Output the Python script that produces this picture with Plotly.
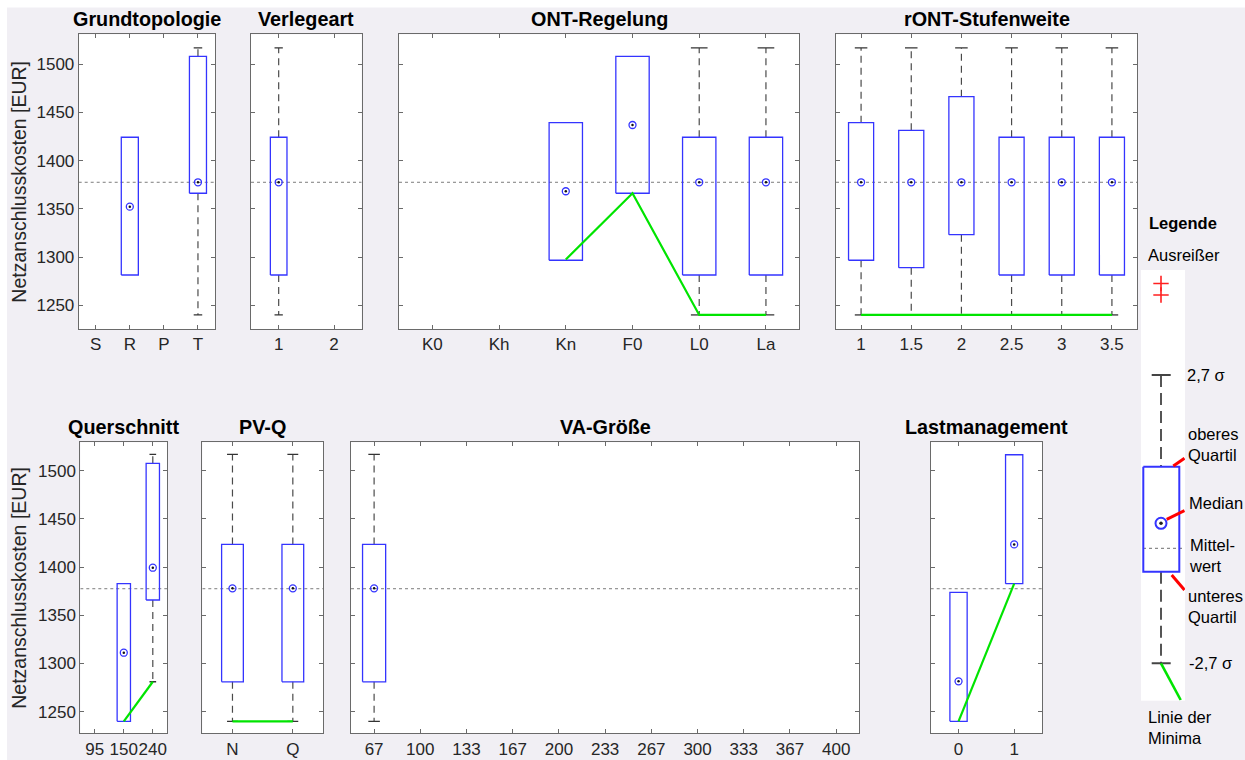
import plotly.graph_objects as go

W, H = 1245, 760
BG = "#f1eff4"
AX = "#6a6a6a"
TXT = "#262626"
BLUE = "#3434ff"
GREEN = "#00e400"
FONT = "Liberation Sans, Arial, sans-serif"

# ---------------- data ----------------
MEAN = 1377.6
Y_TICKS = [1250, 1300, 1350, 1400, 1450, 1500]

topo_cats = ["S", "R", "P", "T"]
topo_q1 = [None, 1281.4, None, 1366.2]
topo_med = [None, 1352.3, None, 1377.6]
topo_q3 = [None, 1424.3, None, 1508.3]
topo_wlo = [None, None, None, 1240.0]
topo_whi = [None, None, None, 1517.0]
topo_min = [None, None, None, None]

verl_cats = ["1", "2"]
verl_q1 = [1281.4, None]
verl_med = [1377.6, None]
verl_q3 = [1424.3, None]
verl_wlo = [1240.0, None]
verl_whi = [1517.0, None]
verl_min = [None, None]

ont_cats = ["K0", "Kh", "Kn", "F0", "L0", "La"]
ont_q1 = [None, None, 1296.7, 1366.2, 1281.4, 1281.4]
ont_med = [None, None, 1368.3, 1437.0, 1377.6, 1377.6]
ont_q3 = [None, None, 1439.4, 1508.3, 1424.3, 1424.3]
ont_wlo = [None, None, None, None, 1240.0, 1240.0]
ont_whi = [None, None, None, None, 1517.0, 1517.0]
ont_min = [None, None, 1297.5, 1366.2, 1240.0, 1240.0]

ront_cats = ["1", "1.5", "2", "2.5", "3", "3.5"]
ront_q1 = [1296.7, 1289.0, 1323.2, 1281.4, 1281.4, 1281.4]
ront_med = [1377.6, 1377.6, 1377.6, 1377.6, 1377.6, 1377.6]
ront_q3 = [1439.4, 1431.5, 1466.4, 1424.3, 1424.3, 1424.3]
ront_wlo = [1240.0, 1240.0, 1240.0, 1240.0, 1240.0, 1240.0]
ront_whi = [1517.0, 1517.0, 1517.0, 1517.0, 1517.0, 1517.0]
ront_min = [1240.0, 1240.0, 1240.0, 1240.0, 1240.0, 1240.0]

quer_cats = ["95", "150", "240"]
quer_q1 = [None, 1240.0, 1365.9]
quer_med = [None, 1311.2, 1399.4]
quer_q3 = [None, 1382.8, 1507.7]
quer_wlo = [None, None, 1281.1]
quer_whi = [None, None, 1517.0]
quer_min = [None, 1240.0, 1281.1]

pvq_cats = ["N", "Q"]
pvq_q1 = [1281.0, 1281.0]
pvq_med = [1378.0, 1378.0]
pvq_q3 = [1423.6, 1423.6]
pvq_wlo = [1240.0, 1240.0]
pvq_whi = [1517.0, 1517.0]
pvq_min = [1240.0, 1240.0]

va_cats = ["67", "100", "133", "167", "200", "233", "267", "300", "333", "367", "400"]
va_q1 = [1281.0, None, None, None, None, None, None, None, None, None, None]
va_med = [1378.0, None, None, None, None, None, None, None, None, None, None]
va_q3 = [1423.6, None, None, None, None, None, None, None, None, None, None]
va_wlo = [1240.0, None, None, None, None, None, None, None, None, None, None]
va_whi = [1517.0, None, None, None, None, None, None, None, None, None, None]
va_min = [None, None, None, None, None, None, None, None, None, None, None]

last_cats = ["0", "1"]
last_q1 = [1240.0, 1382.8]
last_med = [1281.5, 1423.6]
last_q3 = [1373.9, 1516.6]
last_wlo = [None, None]
last_whi = [None, None]
last_min = [1240.0, 1382.8]

TOP_YR = [1225.4, 1531.1]
BOT_YR = [1227.6, 1529.5]

# panel layout (pixel boxes: x0, x1, ytop, ybottom)
panels = [
    dict(title="Grundtopologie", cats=topo_cats, q1=topo_q1, med=topo_med, q3=topo_q3,
         wlo=topo_wlo, whi=topo_whi, mn=topo_min, px=(78.7, 215.0, 34.3, 329.0), bw=0.5, yr=TOP_YR, lab=True),
    dict(title="Verlegeart", cats=verl_cats, q1=verl_q1, med=verl_med, q3=verl_q3,
         wlo=verl_wlo, whi=verl_whi, mn=verl_min, px=(251.0, 361.7, 34.3, 329.0), bw=0.3, yr=TOP_YR, lab=False),
    dict(title="ONT-Regelung", cats=ont_cats, q1=ont_q1, med=ont_med, q3=ont_q3,
         wlo=ont_wlo, whi=ont_whi, mn=ont_min, px=(399.0, 799.3, 34.3, 329.0), bw=0.5, yr=TOP_YR, lab=False),
    dict(title="rONT-Stufenweite", cats=ront_cats, q1=ront_q1, med=ront_med, q3=ront_q3,
         wlo=ront_wlo, whi=ront_whi, mn=ront_min, px=(836.0, 1137.0, 34.3, 329.0), bw=0.5, yr=TOP_YR, lab=False),
    dict(title="Querschnitt", cats=quer_cats, q1=quer_q1, med=quer_med, q3=quer_q3,
         wlo=quer_wlo, whi=quer_whi, mn=quer_min, px=(80.3, 167.3, 442.3, 733.3), bw=0.46, yr=BOT_YR, lab=True),
    dict(title="PV-Q", cats=pvq_cats, q1=pvq_q1, med=pvq_med, q3=pvq_q3,
         wlo=pvq_wlo, whi=pvq_whi, mn=pvq_min, px=(202.3, 323.0, 442.3, 733.3), bw=0.36, yr=BOT_YR, lab=False),
    dict(title="VA-Größe", cats=va_cats, q1=va_q1, med=va_med, q3=va_q3,
         wlo=va_wlo, whi=va_whi, mn=va_min, px=(351.0, 859.3, 442.3, 733.3), bw=0.5, yr=BOT_YR, lab=False),
    dict(title="Lastmanagement", cats=last_cats, q1=last_q1, med=last_med, q3=last_q3,
         wlo=last_wlo, whi=last_whi, mn=last_min, px=(930.7, 1042.0, 442.3, 733.3), bw=0.31, yr=BOT_YR, lab=False),
]

fig = go.Figure()
layout = {}
annotations = []


def ax_names(i):
    return ("x" if i == 1 else f"x{i}", "y" if i == 1 else f"y{i}",
            "xaxis" if i == 1 else f"xaxis{i}", "yaxis" if i == 1 else f"yaxis{i}")


for i, p in enumerate(panels, start=1):
    xa, ya, xk, yk = ax_names(i)
    n = len(p["cats"])
    pos = list(range(1, n + 1))
    bw = p["bw"]
    common = dict(xaxis=xa, yaxis=ya, hoverinfo="skip", showlegend=False)

    # mean line
    fig.add_trace(go.Scatter(x=[0.5, n + 0.5], y=[MEAN, MEAN], mode="lines",
                             line=dict(color="#7c7c7c", width=1, dash="dot"), **common))
    wx, wy, cx, cy, bx, by = [], [], [], [], [], []
    for k in range(n):
        c = pos[k]
        if p["whi"][k] is not None:
            wx += [c, c, None]
            wy += [p["q3"][k], p["whi"][k], None]
            cx += [c - bw / 4, c + bw / 4, None]
            cy += [p["whi"][k], p["whi"][k], None]
        if p["wlo"][k] is not None:
            wx += [c, c, None]
            wy += [p["q1"][k], p["wlo"][k], None]
            cx += [c - bw / 4, c + bw / 4, None]
            cy += [p["wlo"][k], p["wlo"][k], None]
        if p["q1"][k] is not None:
            bx += [c - bw / 2, c + bw / 2, c + bw / 2, c - bw / 2, c - bw / 2, None]
            by += [p["q1"][k], p["q1"][k], p["q3"][k], p["q3"][k], p["q1"][k], None]
    if wx:
        fig.add_trace(go.Scatter(x=wx, y=wy, mode="lines",
                                 line=dict(color="#4a4a4a", width=1.2, dash="7px,5px"), **common))
        fig.add_trace(go.Scatter(x=cx, y=cy, mode="lines",
                                 line=dict(color="#333333", width=1.3), **common))
    fig.add_trace(go.Scatter(x=bx, y=by, mode="lines", line=dict(color=BLUE, width=1.3), **common))
    mx = [pos[k] for k in range(n) if p["mn"][k] is not None]
    my = [p["mn"][k] for k in range(n) if p["mn"][k] is not None]
    if mx:
        fig.add_trace(go.Scatter(x=mx, y=my, mode="lines", line=dict(color=GREEN, width=2.2), **common))
    dx = [pos[k] for k in range(n) if p["med"][k] is not None]
    dy = [p["med"][k] for k in range(n) if p["med"][k] is not None]
    fig.add_trace(go.Scatter(x=dx, y=dy, mode="markers",
                             marker=dict(symbol="circle-open", size=7, color=BLUE,
                                         line=dict(color=BLUE, width=1.3)),
                             **common))
    fig.add_trace(go.Scatter(x=dx, y=dy, mode="markers",
                             marker=dict(symbol="circle", size=2.5, color="#111111"), **common))

    x0, x1, yt, yb = p["px"]
    layout[xk] = dict(domain=[x0 / W, x1 / W], anchor=ya, range=[0.5, n + 0.5],
                      tickmode="array", tickvals=pos, ticktext=p["cats"], ticks="inside",
                      ticklen=4, tickcolor=AX, showline=True, linecolor=AX, linewidth=1,
                      mirror="ticks", showgrid=False, zeroline=False, tickangle=0,
                      tickfont=dict(size=17, color=TXT, family=FONT), fixedrange=True)
    layout[yk] = dict(domain=[1 - yb / H, 1 - yt / H], anchor=xa, range=p["yr"],
                      tickmode="array", tickvals=Y_TICKS, ticks="inside", ticklen=4,
                      tickcolor=AX, showline=True, linecolor=AX, linewidth=1, mirror="ticks",
                      showgrid=False, zeroline=False, showticklabels=p["lab"],
                      tickfont=dict(size=17, color=TXT, family=FONT), fixedrange=True)
    ty = 19.3 if yt < 200 else 426.7
    annotations.append(dict(text=f"<b>{p['title']}</b>", x=(x0 + x1) / 2 / W, y=1 - ty / H,
                            xref="paper", yref="paper", xanchor="center", yanchor="middle",
                            showarrow=False, font=dict(size=19.8, color="#000000", family=FONT)))
    if p["lab"]:
        annotations.append(dict(text="Netzanschlusskosten [EUR]", x=19 / W, y=1 - (yt + yb) / 2 / H,
                                xref="paper", yref="paper", xanchor="center", yanchor="middle",
                                textangle=-90, showarrow=False,
                                font=dict(size=19.5, color=TXT, family=FONT)))

# ---------------- legend (explanatory key) ----------------
LG = dict(x0=1141.0, x1=1185.0, y0=270.0, y1=700.7)
lg_cx = 1161.0
lg_out_y = [283.5, 295.0]
lg_cap_hi, lg_cap_lo = 375.0, 663.3
lg_box = (1143.3, 1179.3, 466.7, 571.7)
lg_med_y = 523.3
lg_mean_y = 548.3
i = 9
xa, ya, xk, yk = ax_names(i)
lc = dict(xaxis=xa, yaxis=ya, hoverinfo="skip", showlegend=False)
fig.add_trace(go.Scatter(x=[lg_cx, lg_cx], y=lg_out_y, mode="markers",
                         marker=dict(symbol="cross-thin-open", size=11, color="#ff2020",
                                     line=dict(color="#ff2020", width=1.6)),
                         **lc))
fig.add_trace(go.Scatter(x=[lg_cx, lg_cx, None, lg_cx, lg_cx],
                         y=[lg_cap_hi, lg_box[2], None, lg_box[3], lg_cap_lo], mode="lines",
                         line=dict(color="#555555", width=2, dash="12px,6px"), **lc))
fig.add_trace(go.Scatter(x=[1151.7, 1170.7, None, 1151.7, 1170.7],
                         y=[lg_cap_hi, lg_cap_hi, None, lg_cap_lo, lg_cap_lo], mode="lines",
                         line=dict(color="#444444", width=2), **lc))
fig.add_trace(go.Scatter(x=[LG["x0"] + 2, LG["x1"]], y=[lg_mean_y, lg_mean_y], mode="lines",
                         line=dict(color="#8a8a8a", width=1.2, dash="dot"), **lc))
fig.add_trace(go.Scatter(x=[lg_box[0], lg_box[1], lg_box[1], lg_box[0], lg_box[0]],
                         y=[lg_box[2], lg_box[2], lg_box[3], lg_box[3], lg_box[2]], mode="lines",
                         line=dict(color=BLUE, width=2), **lc))
fig.add_trace(go.Scatter(x=[lg_cx], y=[lg_med_y], mode="markers",
                         marker=dict(symbol="circle-open", size=11, color=BLUE,
                                     line=dict(color=BLUE, width=2)), **lc))
fig.add_trace(go.Scatter(x=[lg_cx], y=[lg_med_y], mode="markers",
                         marker=dict(symbol="circle", size=3.5, color="#222222"), **lc))
fig.add_trace(go.Scatter(x=[lg_cx, 1180.7], y=[lg_cap_lo, 700.0], mode="lines",
                         line=dict(color=GREEN, width=2.6), **lc))
fig.add_trace(go.Scatter(x=[1173.3, 1184.5, None, 1166.7, 1184.5, None, 1171.7, 1184.5],
                         y=[466.0, 458.3, None, 519.3, 510.7, None, 575.0, 590.0], mode="lines",
                         line=dict(color="#ff0000", width=3), **lc))
layout[xk] = dict(domain=[LG["x0"] / W, LG["x1"] / W], anchor=ya, range=[LG["x0"], LG["x1"]],
                  visible=False, fixedrange=True)
layout[yk] = dict(domain=[1 - LG["y1"] / H, 1 - LG["y0"] / H], anchor=xa,
                  range=[LG["y1"], LG["y0"]], visible=False, fixedrange=True)

legend_texts = [
    ("<b>Legende</b>", 1147.3, 222.7),
    ("Ausreißer", 1146.0, 255.0),
    ("2,7 σ", 1185.0, 375.0),
    ("oberes<br>Quartil", 1186.0, 444.2),
    ("Median", 1186.7, 503.3),
    ("Mittel-<br>wert", 1186.7, 555.0),
    ("unteres<br>Quartil", 1186.0, 606.7),
    ("-2,7 σ", 1186.7, 663.3),
    ("Linie der<br>Minima", 1146.0, 727.5),
]
for t, lx, ly in legend_texts:
    annotations.append(dict(text=t, x=lx / W, y=1 - ly / H, xref="paper", yref="paper",
                            xanchor="left", yanchor="middle", align="left", showarrow=False,
                            font=dict(size=16.5, color="#000000", family=FONT)))

shapes = [
    dict(type="rect", xref="paper", yref="paper", x0=0, x1=1, y0=1 - 7.5 / H, y1=1,
         fillcolor="#ffffff", line=dict(width=0), layer="above"),
    dict(type="rect", xref="paper", yref="paper", x0=0, x1=7 / W, y0=0, y1=1,
         fillcolor="#ffffff", line=dict(width=0), layer="above"),
]

fig.update_layout(width=W, height=H, autosize=False, margin=dict(l=0, r=0, t=0, b=0),
                  paper_bgcolor=BG, plot_bgcolor="#ffffff", showlegend=False,
                  annotations=annotations, shapes=shapes, font=dict(family=FONT), **layout)
fig.write_html("out.html")
